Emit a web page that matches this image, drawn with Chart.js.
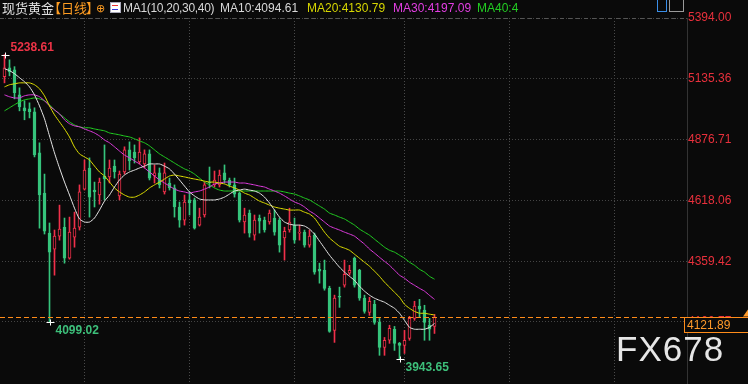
<!DOCTYPE html>
<html>
<head>
<meta charset="utf-8">
<script src="https://cdn.jsdelivr.net/npm/chart.js@4.4.1/dist/chart.umd.min.js"></script>
<style>
  html, body { margin: 0; padding: 0; background: #0a0a0a; }
  #wrap { position: relative; width: 748px; height: 384px; background: #0a0a0a; overflow: hidden; }
  #c { position: absolute; left: 0; top: 0; }
  .t { position: absolute; top: 1px; font: 12px "Liberation Sans", Arial, sans-serif; line-height: 14px; white-space: nowrap; }
  .cjk { font-family: "Noto Sans CJK SC", sans-serif; font-size: 13px; line-height: 15px; top: 0; }
  #logo { position: absolute; left: 616px; top: 331px; font: 35px "Liberation Sans", Arial, sans-serif; line-height: 35px;
          color: #e6e6e6; letter-spacing: 1px; }
</style>
</head>
<body>
<div id="wrap">
  <canvas id="c" width="748" height="384"></canvas>
  <span class="t cjk" style="left:2px;color:#e0e0e0">现货黄金</span>
  <span class="t cjk" style="left:48px;color:#ff9d22">【</span>
  <span class="t cjk" style="left:61px;color:#ff9d22">日线</span>
  <span class="t cjk" style="left:86px;color:#ff9d22">】</span>
  <span class="t" style="left:96px;color:#ff9d22;font-size:11px">⊕</span>
  <span style="position:absolute;left:110px;top:2px;width:9px;height:9px;border:1px solid #aab;background:#fff"></span>
  <span style="position:absolute;left:112px;top:5px;width:6px;height:3px;border-top:1px solid #e33;border-bottom:1px solid #33d"></span>
  <span class="t" style="left:123px;color:#d8d8d8;letter-spacing:-0.3px">MA1(10,20,30,40)</span>
  <span class="t" style="left:220px;color:#d8d8d8">MA10:4094.61</span>
  <span class="t" style="left:307px;color:#d6d600">MA20:4130.79</span>
  <span class="t" style="left:393px;color:#e23ee2">MA30:4197.09</span>
  <span class="t" style="left:477px;color:#22cc22">MA40:4</span>
  <span style="position:absolute;left:657px;top:0;width:8px;height:11px;border:1px solid #3a8ee8;border-top:0"></span>
  <span style="position:absolute;left:669px;top:0;width:13px;height:11px;border:1px solid #9a9a9a;border-top:0"></span>
  <div id="logo">FX678</div>
</div>
<script>
// daily candles, oldest first
const slots = Array.from({ length: 137 }, (_, i) => String(i + 1));

const opens = [5144,5182,5174,5067,5012,5008,4995,4820,4649,4479,
  4411,4466,4504,4372,4462,4504,4666,4756,4662,4641,
  4722,4718,4764,4637,4739,4833,4824,4782,4773,4816,
  4722,4735,4654,4692,4671,4590,4534,4620,4620,4513,
  4556,4696,4684,4684,4735,4705,4684,4649,4526,4564,
  4470,4543,4534,4526,4543,4534,4458,4492,4513,4479,
  4483,4428,4470,4325,4321,4244,4065,4210,4257,4308,
  4372,4321,4202,4142,4176,4099,3993,4023,4070,4010,
  4001,4031,4116,4168,4151,4087,4082];
const closes = [5182,5165,5076,5016,4999,4995,4811,4641,4487,4398,
  4466,4496,4372,4483,4500,4654,4747,4632,4654,4696,
  4709,4756,4739,4730,4833,4786,4799,4824,4816,4713,
  4735,4684,4735,4671,4590,4534,4611,4607,4500,4547,
  4684,4692,4705,4726,4705,4684,4645,4534,4556,4479,
  4534,4530,4492,4564,4483,4428,4487,4526,4449,4483,
  4428,4466,4313,4317,4244,4061,4202,4206,4304,4321,
  4257,4202,4146,4189,4099,3993,4023,4074,4010,4001,
  4023,4116,4168,4155,4099,4070,4121.89];
const highs = [5238.61,5216,5187,5097,5042,5033,5012,4863,4730,4522,
  4492,4598,4543,4547,4568,4684,4790,4799,4696,4713,
  4854,4790,4790,4743,4846,4867,4854,4884,4833,4833,
  4769,4756,4777,4713,4684,4611,4641,4654,4628,4585,
  4696,4760,4743,4747,4769,4713,4713,4654,4585,4577,
  4556,4556,4547,4577,4577,4543,4504,4585,4543,4513,
  4492,4492,4479,4351,4364,4253,4215,4249,4364,4342,
  4377,4325,4215,4206,4193,4116,4035,4087,4082,4014,
  4065,4125,4189,4197,4172,4116,4133];
const lows = [5118,5148,5050,4999,4961,4969,4803,4500,4475,4099.02,
  4300,4449,4351,4368,4419,4492,4662,4547,4590,4602,
  4620,4692,4713,4620,4730,4747,4777,4773,4756,4705,
  4692,4671,4645,4662,4547,4504,4513,4556,4496,4509,
  4547,4671,4675,4675,4692,4675,4632,4526,4479,4462,
  4449,4479,4483,4517,4470,4398,4364,4483,4436,4449,
  4419,4419,4304,4266,4236,4057,4014,4163,4249,4300,
  4249,4193,4138,4129,4091,3959,3959,4010,3980,3943.65,
  3967,4023,4108,4120,4023,4023,4052];

// moving averages as drawn on the chart
const ma10 = [5178,5170,5157,5140,5123,5101,5067,5020,4965,4892,
  4820,4756,4696,4641,4585,4539,4526,4526,4543,4577,
  4615,4641,4675,4705,4726,4739,4747,4756,4764,4773,
  4773,4773,4764,4752,4730,4705,4679,4654,4637,4624,
  4620,4620,4620,4624,4632,4645,4658,4662,4666,4662,
  4658,4649,4632,4607,4577,4547,4526,4517,4513,4513,
  4509,4496,4475,4445,4415,4385,4359,4334,4313,4295,
  4278,4253,4232,4215,4202,4193,4185,4172,4159,4138,
  4108,4078,4070,4070,4070,4078,4094.61];
const ma20 = [5101,5110,5114,5118,5118,5118,5110,5093,5063,5020,
  4982,4952,4922,4888,4845,4816,4803,4790,4764,4739,
  4722,4696,4671,4654,4641,4632,4632,4641,4654,4671,
  4684,4696,4709,4722,4726,4722,4718,4713,4709,4705,
  4700,4696,4696,4692,4688,4679,4671,4662,4649,4641,
  4628,4615,4607,4598,4590,4585,4581,4577,4577,4577,
  4568,4560,4543,4513,4483,4458,4440,4423,4415,4406,
  4389,4372,4355,4338,4317,4295,4270,4249,4227,4206,
  4176,4159,4146,4138,4138,4134,4130.79];
const ma30 = [5067,5059,5054,5054,5063,5067,5067,5059,5042,5020,
  5003,4986,4961,4944,4935,4931,4922,4914,4905,4892,
  4875,4863,4846,4828,4811,4799,4786,4773,4756,4739,
  4722,4705,4692,4679,4666,4658,4654,4649,4654,4658,
  4666,4675,4688,4692,4696,4696,4696,4692,4692,4688,
  4684,4679,4675,4666,4658,4649,4637,4624,4611,4603,
  4590,4573,4560,4543,4526,4509,4500,4492,4483,4475,
  4466,4449,4432,4411,4394,4376,4359,4342,4321,4300,
  4287,4270,4257,4244,4232,4214,4197.09];
const ma40 = [4999,5012,5025,5037,5046,5050,5054,5050,5042,5025,
  5003,4986,4969,4952,4939,4931,4927,4927,4922,4918,
  4914,4905,4901,4897,4892,4888,4880,4871,4863,4850,
  4833,4816,4803,4790,4777,4764,4752,4743,4730,4713,
  4696,4684,4671,4662,4658,4658,4658,4658,4658,4658,
  4658,4658,4658,4658,4658,4658,4654,4649,4645,4637,
  4628,4620,4607,4594,4581,4564,4556,4547,4539,4526,
  4513,4496,4483,4470,4453,4436,4419,4406,4398,4385,
  4372,4355,4342,4325,4313,4295,4283];

const yTicks = [5394.00, 5135.36, 4876.71, 4618.06, 4359.42, 4100.77];
const monthLines = [16, 37, 58, 80, 101, 122];

// marked extremes: [candle index, price, colour, side]
const marks = [
  [0, 5238.61, "#ec3346", "up"],
  [9, 4099.02, "#3dbf7a", "down"],
  [79, 3943.65, "#3dbf7a", "down"]
];

const RED = "#f0304a";
const GREEN = "#36c47c";
const BG = "#0a0a0a";

const isUp = closes.map((c, i) => c >= opens[i]);

const overlay = {
  id: "overlay",
  afterDraw(chart) {
    const { ctx, chartArea } = chart;
    const x = chart.scales.x, y = chart.scales.y;
    ctx.save();

    // top dashed line
    const yt = Math.round(y.getPixelForValue(yTicks[0])) + 0.5;
    ctx.strokeStyle = "#555";
    ctx.lineWidth = 1;
    ctx.setLineDash([4, 4]);
    ctx.beginPath();
    ctx.moveTo(0, yt);
    ctx.lineTo(chartArea.right, yt);
    ctx.stroke();

    // last price line
    const last = closes[closes.length - 1];
    const yp = Math.round(y.getPixelForValue(last)) + 0.5;
    ctx.strokeStyle = "#ff8c1a";
    ctx.setLineDash([5, 3]);
    ctx.beginPath();
    ctx.moveTo(0, yp);
    ctx.lineTo(684, yp);
    ctx.stroke();
    ctx.setLineDash([]);

    // price box
    ctx.fillStyle = BG;
    ctx.fillRect(684, yp - 0.5, 64, 16);
    ctx.strokeStyle = "#ff8c1a";
    ctx.strokeRect(684.5, yp, 70, 15);
    ctx.fillStyle = "#ff9a2a";
    ctx.font = '12px "Liberation Sans", Arial, sans-serif';
    ctx.textBaseline = "middle";
    ctx.textAlign = "left";
    ctx.fillText(last.toFixed(2), 687, yp + 8);
    ctx.beginPath();
    ctx.moveTo(748, yp - 8);
    ctx.lineTo(743, yp - 1);
    ctx.lineTo(748, yp - 1);
    ctx.closePath();
    ctx.fill();

    // extreme markers
    ctx.font = 'bold 12px "Liberation Sans", Arial, sans-serif';
    marks.forEach(([i, v, col, side]) => {
      const mx = Math.round(x.getPixelForValue(i)) + 0.5;
      const my = Math.round(y.getPixelForValue(v)) + 0.5;
      ctx.strokeStyle = "#ffffff";
      ctx.beginPath();
      ctx.moveTo(mx - 4, my);
      ctx.lineTo(mx + 4, my);
      ctx.moveTo(mx, my - 3);
      ctx.lineTo(mx, my + 3);
      ctx.stroke();
      ctx.fillStyle = col;
      ctx.fillText(v.toFixed(2), mx + 5, side === "up" ? my - 8 : my + 8);
    });

    ctx.restore();
  }
};

new Chart(document.getElementById("c"), {
  data: {
    labels: slots,
    datasets: [
      { type: "line", data: ma10, borderColor: "#e6e6e6", borderWidth: 1, pointRadius: 0, tension: 0.2 },
      { type: "line", data: ma20, borderColor: "#e0e000", borderWidth: 1, pointRadius: 0, tension: 0.2 },
      { type: "line", data: ma30, borderColor: "#e03ce0", borderWidth: 1, pointRadius: 0, tension: 0.2 },
      { type: "line", data: ma40, borderColor: "#22d022", borderWidth: 1, pointRadius: 0, tension: 0.2 },
      {
        type: "bar",
        data: opens.map((o, i) => [o, closes[i]]),
        grouped: false,
        barThickness: 3,
        minBarLength: 1,
        borderSkipped: false,
        borderWidth: 1,
        borderColor: isUp.map(u => u ? RED : GREEN),
        backgroundColor: isUp.map(u => u ? BG : GREEN)
      },
      {
        type: "bar",
        data: lows.map((l, i) => [l, highs[i]]),
        grouped: false,
        barThickness: 1,
        borderWidth: 0,
        backgroundColor: isUp.map(u => u ? RED : GREEN)
      }
    ]
  },
  options: {
    responsive: false,
    devicePixelRatio: 1,
    animation: false,
    layout: { padding: { left: 2, top: 18, right: 0, bottom: 0 } },
    plugins: { legend: { display: false }, tooltip: { enabled: false } },
    scales: {
      x: {
        type: "category",
        offset: true,
        afterFit: s => { s.height = 0; },
        ticks: { display: false, autoSkip: false, padding: 0 },
        grid: {
          offset: false,
          drawTicks: false,
          color: c => monthLines.includes(c.index) ? "#4a4a4a" : "rgba(0,0,0,0)"
        },
        border: { display: false, dash: [1, 2] }
      },
      y: {
        position: "right",
        min: 3837,
        max: 5394,
        afterBuildTicks: s => { s.ticks = yTicks.map(v => ({ value: v })); },
        afterFit: s => { s.width = 61; s.paddingTop = 0; s.paddingBottom = 0; },
        ticks: {
          padding: 1,
          crossAlign: "near",
          color: "#e8303c",
          font: { family: '"Liberation Sans", Arial, sans-serif', size: 12 },
          callback: v => v.toFixed(2)
        },
        grid: { color: "#444", drawTicks: false },
        border: { display: true, color: "#333", dash: [1, 2] }
      }
    }
  },
  plugins: [overlay]
});
</script>
</body>
</html>
